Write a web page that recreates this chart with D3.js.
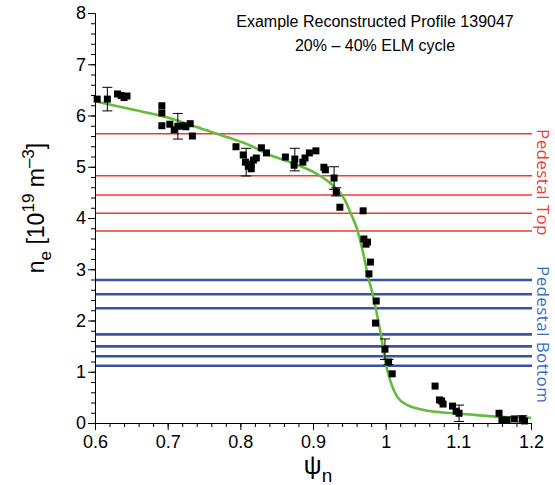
<!DOCTYPE html>
<html>
<head>
<meta charset="utf-8">
<script src="https://cdn.jsdelivr.net/npm/d3@7"></script>
<style>
  body { margin: 0; background: #fff; }
  text { font-family: "Liberation Sans", Arial, sans-serif; }
</style>
</head>
<body>
<div id="chart"></div>
<script>
// measured profile points (psi_n, n_e)
const pointPsi = [0.603, 0.617, 0.631, 0.636, 0.640, 0.644,
    0.692, 0.692, 0.692, 0.703, 0.709, 0.714, 0.721, 0.725, 0.731, 0.734,
    0.794, 0.804, 0.807, 0.811, 0.815, 0.815, 0.818, 0.822, 0.829, 0.836,
    0.862, 0.874, 0.875, 0.886, 0.889, 0.895, 0.904, 0.915, 0.917, 0.929, 0.932, 0.937,
    0.969, 0.970, 0.973, 0.975, 0.977, 0.979, 0.986, 0.987, 0.999, 1.004, 1.009,
    1.068, 1.074, 1.077, 1.079, 1.092, 1.097, 1.101,
    1.156, 1.160, 1.167, 1.177, 1.188, 1.191];
const pointNe = [6.32, 6.32, 6.42, 6.39, 6.35, 6.38,
    6.19, 6.05, 5.80, 5.83, 5.72, 5.79, 5.80, 5.78, 5.84, 5.60,
    5.39, 5.23, 5.09, 5.01, 4.96, 5.05, 5.13, 5.17, 5.37, 5.27,
    5.19, 5.03, 5.15, 5.09, 5.17, 5.27, 5.31, 4.99, 4.94, 4.78, 4.51, 4.21,
    4.14, 3.59, 3.49, 3.53, 2.91, 3.14, 1.95, 2.38, 1.44, 1.19, 0.96,
    0.72, 0.45, 0.43, 0.37, 0.33, 0.23, 0.19,
    0.19, 0.06, 0.06, 0.08, 0.08, 0.04];

// error bars: position, centre, half-height
const errPsi = [0.617, 0.714, 0.808, 0.875, 0.929, 0.932, 0.999, 1.004, 1.101, 1.188];
const errNe = [6.32, 5.79, 5.09, 5.14, 4.78, 4.51, 1.44, 1.19, 0.19, 0.08];
const errSize = [0.23, 0.25, 0.27, 0.22, 0.22, 0.08, 0.20, 0.05, 0.16, 0.06];

// reconstructed fit
const fitPsi = [0.60, 0.65, 0.70, 0.745, 0.786, 0.813, 0.837, 0.866, 0.903, 0.924, 0.937,
    0.944, 0.951, 0.961, 0.969, 0.976, 0.983, 0.986, 0.993, 0.999, 1.006, 1.016, 1.030,
    1.048, 1.075, 1.103, 1.158, 1.20];
const fitNe = [6.28, 6.12, 5.96, 5.75, 5.56, 5.42, 5.25, 5.10, 4.88, 4.68, 4.50,
    4.35, 4.12, 3.77, 3.32, 2.85, 2.46, 2.26, 1.76, 1.23, 0.84, 0.51, 0.35,
    0.27, 0.21, 0.18, 0.12, 0.10];

// pedestal levels
const pedTop = [5.645, 4.825, 4.449, 4.092, 3.746];
const pedBottom = [2.79, 2.511, 2.238, 1.73, 1.496, 1.301, 1.118];

const titleLines = ["Example Reconstructed Profile 139047", "20% \u2013 40% ELM cycle"];

const width = 555, height = 485;
const margin = { top: 13, right: 24, bottom: 62, left: 95 };

const svg = d3.select("#chart").append("svg")
    .attr("width", width)
    .attr("height", height);

const x = d3.scaleLinear().domain([0.6, 1.2]).range([margin.left, width - margin.right]);
const y = d3.scaleLinear().domain([0, 8]).range([height - margin.bottom, margin.top]);

// pedestal lines
svg.selectAll("line.top")
    .data(pedTop)
    .enter().append("line")
    .attr("class", "top")
    .attr("x1", x(0.6)).attr("x2", x(1.2) + 1)
    .attr("y1", d => y(d)).attr("y2", d => y(d))
    .attr("stroke", "#ee3b33")
    .attr("stroke-width", 1.4);

svg.selectAll("line.bottom")
    .data(pedBottom)
    .enter().append("line")
    .attr("class", "bottom")
    .attr("x1", x(0.6)).attr("x2", x(1.2) + 1)
    .attr("y1", d => y(d)).attr("y2", d => y(d))
    .attr("stroke", "#3953a4")
    .attr("stroke-width", 2.6);

// axes
const yMinor = d3.axisLeft(y).tickValues(d3.range(0, 8.01, 0.2)).tickSize(4).tickFormat("").tickSizeOuter(0);
const xMinor = d3.axisBottom(x).tickValues(d3.range(0.6, 1.201, 0.02)).tickSize(4).tickFormat("").tickSizeOuter(0);
const yAxis = d3.axisLeft(y).tickValues(d3.range(0, 9)).tickSize(7).tickPadding(2).tickSizeOuter(0);
const xAxis = d3.axisBottom(x).tickValues(d3.range(6, 13).map(d => d / 10)).tickSize(7).tickPadding(5)
    .tickFormat(d3.format("~g")).tickSizeOuter(0);

[yMinor, yAxis].forEach(a => {
    svg.append("g").attr("transform", `translate(${margin.left},0)`).call(a)
        .call(g => g.selectAll("text").style("font-size", "18px").attr("font-family", null));
});
[xMinor, xAxis].forEach(a => {
    svg.append("g").attr("transform", `translate(0,${height - margin.bottom})`).call(a)
        .call(g => g.selectAll("text").style("font-size", "18px").attr("font-family", null));
});
svg.selectAll(".domain, .tick line").attr("stroke", "#000");
svg.selectAll(".tick text").attr("fill", "#000");

// fit curve
const line = d3.line().x(d => x(d[0])).y(d => y(d[1])).curve(d3.curveMonotoneX);
svg.append("path")
    .datum(fitPsi.map((p, i) => [p, fitNe[i]]))
    .attr("d", line)
    .attr("fill", "none")
    .attr("stroke", "#66bb3c")
    .attr("stroke-width", 2.6);

// error bars
const errData = errPsi.map((p, i) => ({ p: p, v: errNe[i], e: errSize[i] }));
const eb = svg.append("g").attr("stroke", "#000").attr("stroke-width", 1);
errData.forEach(d => {
    eb.append("line").attr("x1", x(d.p)).attr("x2", x(d.p)).attr("y1", y(d.v - d.e)).attr("y2", y(d.v + d.e));
    [d.v - d.e, d.v + d.e].forEach(v => {
        eb.append("line").attr("x1", x(d.p) - 5).attr("x2", x(d.p) + 5).attr("y1", y(v)).attr("y2", y(v));
    });
});

// data points
const sq = 7;
svg.selectAll("rect.pt")
    .data(pointPsi.map((p, i) => [p, pointNe[i]]))
    .enter().append("rect")
    .attr("class", "pt")
    .attr("x", d => x(d[0]) - sq / 2)
    .attr("y", d => y(d[1]) - sq / 2)
    .attr("width", sq).attr("height", sq)
    .attr("fill", "#000");

// title
svg.selectAll("text.title")
    .data(titleLines)
    .enter().append("text")
    .attr("class", "title")
    .attr("x", 375)
    .attr("y", (d, i) => 27 + i * 24)
    .attr("text-anchor", "middle")
    .style("font-size", "16px")
    .text(d => d);

// axis labels
const xl = svg.append("text")
    .attr("x", 318).attr("y", 474)
    .attr("text-anchor", "middle")
    .style("font-size", "25px");
xl.append("tspan").text("\u03c8");
xl.append("tspan").attr("dy", 8).style("font-size", "19px").text("n");

const yl = svg.append("text")
    .attr("transform", "translate(44,208) rotate(-90)")
    .attr("text-anchor", "middle")
    .style("font-size", "23px");
yl.append("tspan").text("n");
yl.append("tspan").attr("dy", 7).style("font-size", "17px").text("e");
yl.append("tspan").attr("dy", -7).text(" [10");
yl.append("tspan").attr("dy", -10).style("font-size", "17px").text("19");
yl.append("tspan").attr("dy", 10).text(" m");
yl.append("tspan").attr("dy", -10).style("font-size", "17px").text("\u20133");
yl.append("tspan").attr("dy", 10).text("]");

// pedestal labels
svg.append("text")
    .attr("transform", "translate(537,129) rotate(90)")
    .style("font-family", "'Open Sans', sans-serif")
    .style("font-size", "17px")
    .style("letter-spacing", "0.4px")
    .attr("fill", "#ee3b33")
    .text("Pedestal Top");
svg.append("text")
    .attr("transform", "translate(537,266) rotate(90)")
    .style("font-family", "'Open Sans', sans-serif")
    .style("font-size", "17px")
    .style("letter-spacing", "0.4px")
    .attr("fill", "#3a6cc0")
    .text("Pedestal Bottom");
</script>
</body>
</html>
